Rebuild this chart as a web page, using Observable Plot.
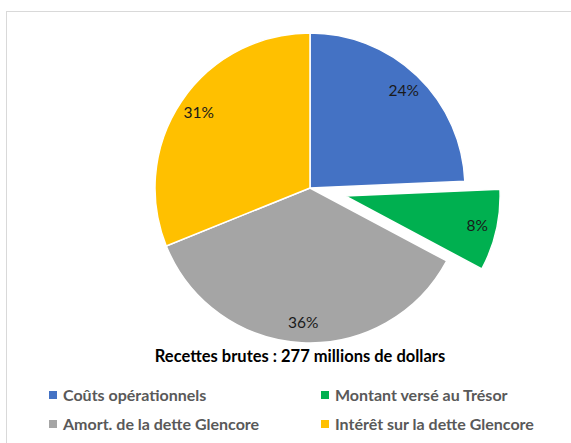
<!DOCTYPE html>
<html><head><meta charset="utf-8">
<script src="https://cdn.jsdelivr.net/npm/d3@7"></script>
<script src="https://cdn.jsdelivr.net/npm/@observablehq/plot@0.6"></script>
<style>
html,body{margin:0;padding:0;background:#fff;width:571px;height:443px;overflow:hidden;font-family:Lato,"Open Sans",sans-serif;}
#frame{position:absolute;left:6px;top:11px;width:600px;height:460px;border:1px solid #d9d9d9;box-sizing:border-box;}
#chart{position:absolute;left:0;top:0;}
#title{position:absolute;left:0;width:600px;top:346px;text-align:center;font-weight:700;font-size:16.5px;line-height:20px;color:#000;}
.leg{position:absolute;font-size:16px;line-height:20px;font-weight:700;color:#595959;white-space:nowrap;}
.leg span{display:inline-block;width:8px;height:8px;margin-right:6px;vertical-align:2px;}
</style></head>
<body>
<div id="frame"></div>
<div id="chart"></div>
<div id="title"></div>
<div id="legend"></div>
<script>
const categories = ["Coûts opérationnels","Montant versé au Trésor","Amort. de la dette Glencore","Intérêt sur la dette Glencore"];
const values = [24.3, 8.5, 36.1, 31.1];
const labels = ["24%","8%","36%","31%"];
const colors = ["#4472C4","#00B050","#A5A5A5","#FFC000"];
const exploded = [0, 1, 0, 0];
const titleText = "Recettes brutes : 277 millions de dollars";

const cx = 310, cy = 188, R = 155, explodeDist = 36, labelR = 0.87*R;
const arcs = d3.pie().sort(null).startAngle(0).endAngle(2*Math.PI)(values);
const slices = arcs.map((a,i)=>{
  const mid = (a.startAngle + a.endAngle)/2;
  const off = exploded[i] ? explodeDist : 0;
  const ox = cx + off*Math.sin(mid), oy = cy - off*Math.cos(mid);
  return {cat:categories[i], color:colors[i], label:labels[i], a, ox, oy,
    lx: ox + labelR*Math.sin(mid), ly: oy - labelR*Math.cos(mid)};
});

const arcGen = d3.arc().innerRadius(0).outerRadius(R);
function pieMark(index, scales, values, dimensions){
  const g = d3.create("svg:g");
  for (const s of slices){
    g.append("path").attr("d", arcGen(s.a))
      .attr("transform", `translate(${scales.x(s.ox)},${scales.y(s.oy)})`)
      .attr("fill", s.color).attr("stroke","#fff").attr("stroke-width",1.5).attr("stroke-linejoin","round");
  }
  return g.node();
}

const plot = Plot.plot({
  width: 571, height: 345, margin: 0,
  x: {type: "identity", axis: null}, y: {type: "identity", axis: null},
  style: {background: "transparent", overflow: "visible"},
  marks: [
    pieMark,
    Plot.text(slices, {x:"lx", y:"ly", text:"label", fontSize:15.5, fill:"#1a1a1a", fontFamily:"Lato, 'Open Sans', sans-serif"})
  ]
});
document.getElementById("chart").appendChild(plot);
document.getElementById("title").textContent = titleText;

const legPos = [[49,385],[321,385],[49,414],[321,414]];
const leg = document.getElementById("legend");
categories.forEach((c,i)=>{
  const d = document.createElement("div");
  d.className = "leg";
  d.style.left = legPos[i][0]+"px"; d.style.top = legPos[i][1]+"px";
  d.innerHTML = `<span style="background:${colors[i]}"></span>`;
  d.appendChild(document.createTextNode(c));
  leg.appendChild(d);
});
</script>
</body></html>
